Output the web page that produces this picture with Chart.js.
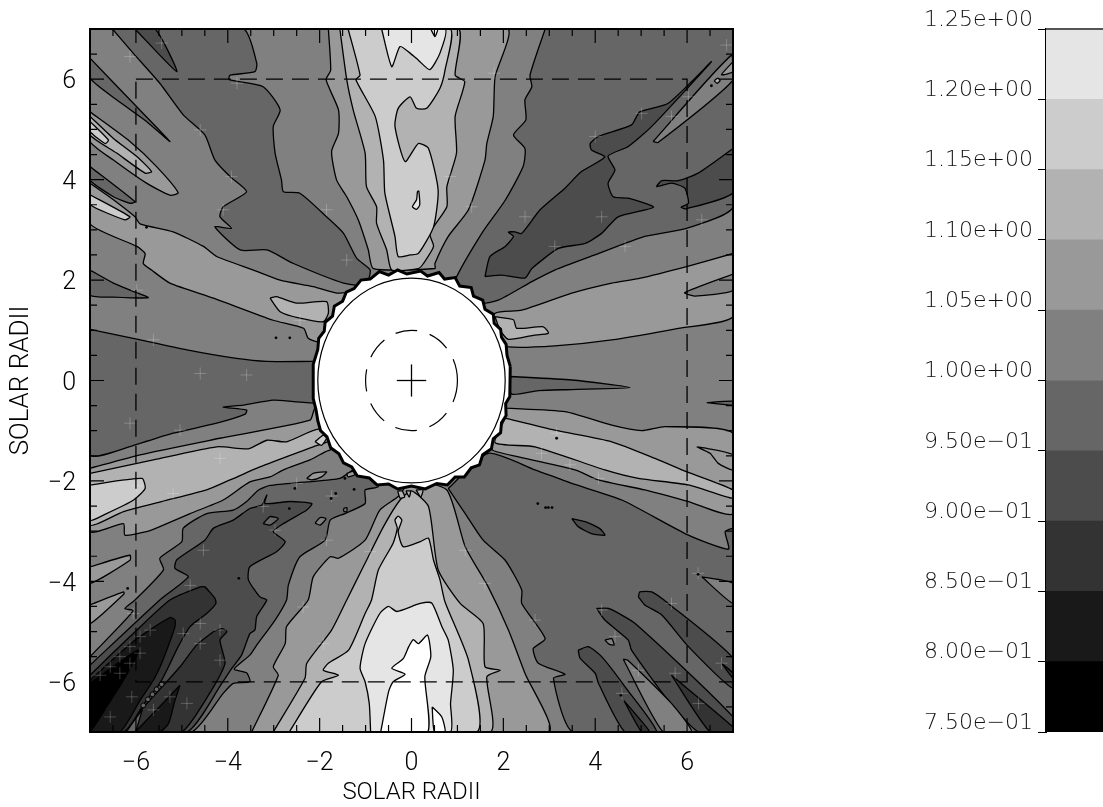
<!DOCTYPE html>
<html>
<head>
<meta charset="utf-8">
<script src="https://cdn.jsdelivr.net/npm/chart.js@4"></script>
<style>
  body { margin: 0; background: #fff; }
  canvas { position: absolute; top: 0; }
</style>
</head>
<body>
<canvas id="mapChart" width="800" height="807" style="left:0"></canvas>
<canvas id="barChart" width="223" height="807" style="left:880px"></canvas>
<script>
// colour bar
const bandLow = [0.75, 0.80, 0.85, 0.90, 0.95, 1.00, 1.05, 1.10, 1.15, 1.20];
const bandHigh = [0.80, 0.85, 0.90, 0.95, 1.00, 1.05, 1.10, 1.15, 1.20, 1.25];
const barTicks = ['7.50e\u221201', '8.00e\u221201', '8.50e\u221201', '9.00e\u221201', '9.50e\u221201',
  '1.00e+00', '1.05e+00', '1.10e+00', '1.15e+00', '1.20e+00', '1.25e+00'];
// one shade per band, the last is everything above 1.25
const shades = ['#000000', '#191919', '#333333', '#4c4c4c', '#666666', '#808080', '#999999', '#b2b2b2', '#cccccc', '#e5e5e5', '#ffffff'];

// contour outlines, [x, y] in solar radii
const fullField = [[-7,-7],[7,-7],[7,7],[-7,7]];

// below 1.00
const upperLeft95 = [[-6.51,7],[-6.06,6.52],[-5.48,5.92],[-4.97,5.29],[-4.5,4.89],[-4.28,4.39],[-3.95,4.06],[-3.59,3.76],[-4.1,3.46],[-4.17,3.26],[-3.92,3.03],[-4.28,3.06],[-3.73,2.6],[-3.15,2.6],[-2.57,2.33],[-1.48,1.94],[-1,1.9],[-.9,2.2],[-1.19,2.43],[-1.48,2.93],[-1.85,3.26],[-2.43,3.73],[-2.79,3.76],[-2.83,3.99],[-2.97,4.53],[-3.01,5.06],[-2.86,5.39],[-3.23,5.85],[-3.97,5.99],[-3.95,6.08],[-3.41,6.15],[-3.37,6.32],[-3.66,7]];
const leftFinger95a = [[-7,6.42],[-6.13,5.59],[-5.26,4.76],[-5.77,5.16],[-6.42,5.59],[-7,6.02]];
const leftFinger95b = [[-7,4.26],[-6.02,3.56],[-6.13,3.53],[-6.49,3.66],[-7,3.99]];
const leftFinger95c = [[-7,2.2],[-6.49,1.94],[-6.13,1.8],[-5.73,1.65],[-6.49,1.66],[-7,1.7]];
const midLeft95 = [[-7,1.02],[-6.06,.84],[-4.89,.61],[-3.81,.44],[-3.15,.38],[-2.17,.38],[-2,.38],[-2,-.46],[-2.14,-.45],[-2.57,-.42],[-3.01,-.39],[-3.66,-.49],[-4.1,-.53],[-3.59,-.59],[-3.62,-.67],[-4.24,-.85],[-5.19,-1.05],[-5.91,-1.25],[-7,-1.48]];
const upperRight95 = [[2.91,7],[7,7],[7,3.46],[5.99,3.03],[5.08,2.87],[3.99,2.5],[3.12,2.2],[2.62,1.97],[1.89,1.6],[1.53,1.54],[.95,1.7],[.95,2],[1.53,2.93],[2.04,3.59],[2.43,4.26],[2.47,4.62],[2.22,4.89],[2.49,5.19],[2.47,5.59],[2.62,5.85],[2.58,6.08]];
const midRight95 = [[2.14,.08],[3.49,.01],[4.76,-.14],[3.49,-.18],[2.76,-.2],[2.18,-.27]];
const farRight95 = [[6.43,-.44],[7,-.41],[7,-.49]];
const lowerRight95 = [[.8,-2.15],[1.67,-1.45],[2.69,-1.78],[3.49,-2.05],[4.58,-2.38],[6.03,-3.08],[6.9,-3.36],[6.83,-3.01],[7,-2.96],[7,-7],[3.52,-7],[3.09,-5.93],[3.34,-5.85],[2.76,-5.63],[2.65,-5.34],[2.91,-5.14],[2.4,-4.44],[2.4,-4.17],[2.04,-3.58],[1.56,-3.18],[1.17,-2.65]];
const lowerLeft95 = [[-7,-5.5],[-6.06,-4.59],[-6.24,-4.54],[-6.02,-4.37],[-5.4,-3.77],[-5.48,-3.54],[-5,-3.21],[-4.97,-2.94],[-4.46,-2.65],[-3.88,-2.58],[-3.59,-2.41],[-3.33,-2.18],[-3.08,-2.09],[-2.28,-2.02],[-1.56,-1.95],[-1.27,-1.78],[-1,-1.7],[-.72,-2.11],[-1.01,-2.18],[-1.01,-2.45],[-1.45,-2.65],[-1.77,-2.78],[-1.88,-3.18],[-2.43,-3.51],[-2.68,-4.07],[-2.72,-4.37],[-2.97,-4.77],[-3.37,-5.27],[-3.52,-5.47],[-3.86,-5.75],[-3.59,-5.82],[-3.52,-6],[-3.88,-6.03],[-4.1,-6.23],[-4.79,-7],[-7,-7]];

// below 0.95
const lowerLeft90 = [[-7,-5.67],[-5.48,-4.37],[-4.86,-3.91],[-5.15,-3.74],[-5.11,-3.57],[-4.5,-3.18],[-4.31,-2.94],[-3.88,-2.78],[-3.52,-2.55],[-3.26,-2.48],[-3.15,-2.28],[-3.19,-2.45],[-2.64,-2.41],[-2.17,-2.45],[-2.28,-2.58],[-2.79,-2.85],[-3.01,-3.01],[-2.75,-3.21],[-2.94,-3.41],[-3.52,-3.71],[-3.55,-3.97],[-3.3,-4.31],[-3.15,-4.37],[-3.37,-4.7],[-3.41,-4.97],[-3.52,-5.04],[-3.7,-5.47],[-3.91,-5.73],[-4.13,-6.03],[-4.89,-7],[-7,-7]];
const topLeft90 = [[-6.02,7],[-5.58,7],[-5.11,6.15]];
const upperRight90 = [[1.6,2.07],[1.71,2.47],[2.04,2.67],[2.22,2.87],[2.11,2.95],[2.25,2.96],[2.4,2.93],[2.8,3.4],[3.34,3.83],[3.7,4.16],[4.21,4.45],[3.92,4.59],[3.89,4.72],[4.07,4.86],[4.79,5.09],[4.97,5.35],[5.59,5.52],[6.53,6.35],[5.23,5.06],[4.72,4.66],[4.28,4.47],[4.43,4.19],[4.28,3.93],[4.39,3.66],[4.72,3.63],[5.27,3.45],[4.5,3.26],[4.14,2.93],[3.78,2.73],[3.2,2.63],[2.62,2.23],[2.47,2.04],[1.96,2.1]];
const rightLobe90 = [[7,4.62],[6.24,4.13],[5.81,3.98],[5.45,3.98],[5.34,3.86],[5.66,3.93],[5.95,3.83],[6.03,3.53],[5.87,3.45],[5.99,3.42],[7,3.74]];
const rightFinger90a = [[4.94,-4.31],[4.97,-4.21],[5.23,-4.21],[5.59,-4.44],[7,-5.53],[7,-6.13],[6.03,-5.3],[5.45,-4.67],[5.08,-4.47]];
const rightFinger90b = [[4.03,-4.54],[4.29,-4.54],[4.87,-4.84],[7,-6.7],[7,-7],[6.25,-7],[5.59,-6.37],[4.79,-5.37],[4.72,-5.17],[4.21,-4.77]];
const rightFinger90c = [[3.63,-5.37],[3.85,-5.3],[4.14,-5.5],[4.65,-6.1],[5.34,-7],[4.65,-7],[4.07,-6.03],[4,-5.83],[3.67,-5.53]];
const lowerBlob90 = [[3.49,-2.75],[3.78,-2.81],[4.1,-2.95],[4.21,-3.08],[3.92,-3.05],[3.63,-2.91]];

// below 0.90 and lower, bottom corners
const cornerLobe85 = [[-7,-5.87],[-6.13,-5.1],[-5.26,-4.37],[-4.6,-4.11],[-4.5,-4.11],[-4.28,-4.34],[-4.26,-4.44],[-4.46,-4.64],[-4.82,-4.9],[-5.08,-5.3],[-5.29,-5.7],[-5.48,-6.03],[-5.84,-6.46],[-6.09,-6.83],[-6.27,-7],[-7,-7]];
const cornerFinger85 = [[-4.31,-5],[-4.13,-4.94],[-4.02,-5],[-4.17,-5.17],[-4.06,-5.63],[-4.31,-6.1],[-5,-7],[-6.02,-7],[-5.91,-6.6],[-5.4,-6.07],[-5.04,-5.7],[-4.68,-5.27]];
const cornerFinger80 = [[-5.04,-6.07],[-5.15,-6.37],[-5.29,-6.83],[-5.48,-7],[-6.02,-7],[-5.91,-6.9]];
const cornerSliver = [[-5.86,-6.55],[-6.02,-7],[-6.2,-7]];
const cornerLobe80 = [[-7,-5.97],[-6.02,-5.17],[-5.26,-4.72],[-5.15,-4.77],[-5.15,-4.9],[-5.26,-5.2],[-5.44,-5.63],[-5.62,-5.97],[-5.91,-6.37],[-6.35,-7],[-7,-7]];
const cornerLobe75 = [[-7,-6.03],[-5.95,-5.37],[-6.27,-5.97],[-6.64,-6.5],[-7,-7]];
const rightInner85a = [[6.75,-5.63],[7,-5.83],[7,-5.93]];
const rightInner85b = [[5.66,-5.87],[7,-6.9],[7,-7],[6.5,-7]];
const rightInner85c = [[4.63,-6.38],[5.19,-7],[5.01,-7]];
const rightWedge100 = [[4.61,-5.55],[4.71,-5.57],[5.66,-6.43],[6.1,-7],[5.48,-7]];

// small islands in the darker fields
const islandA = [[-3.23,-2.85],[-3.08,-2.71],[-2.9,-2.75],[-3.08,-2.88]];
const islandB = [[-2.1,-2.84],[-1.99,-2.73],[-1.86,-2.75],[-1.99,-2.88]];
const islandC = [[-1.48,-2.55],[-1.41,-2.53],[-1.41,-2.61],[-1.47,-2.61]];
const islandD = [[-2.28,-1.95],[-2.14,-1.85],[-1.85,-1.82],[-1.96,-1.92],[-2.17,-1.98]];
const islandE = [[-1.41,-1.85],[-1.27,-1.81],[-1.24,-1.88],[-1.38,-1.92]];
const islandF = [[4.21,-5.17],[4.36,-5.14],[4.41,-5.27],[4.3,-5.25]];
const islandG = [[6.32,-3.91],[7,-4.04],[7,-4.44]];

// top centre, brightening upward
const top105 = [[-1.81,7],[-1.76,6.18],[-1.86,5.99],[-1.59,5.39],[-1.59,4.92],[-1.74,4.56],[-1.63,3.99],[-1.41,3.66],[-1.16,3.2],[-.94,2.6],[-.83,2.23],[.51,2.23],[.51,2.33],[.8,2.87],[1.24,3.4],[1.6,4.39],[1.64,4.72],[1.78,5.26],[1.82,6.05],[2.09,7]];
const top110 = [[-1.56,7],[-1.41,5.99],[-1.27,5.39],[-1.01,4.53],[-.98,3.86],[-.76,3.46],[-.76,3.13],[-.54,2.6],[-.43,2.2],[.15,2.23],[.26,2.33],[.48,2.67],[.4,2.93],[.77,3.46],[.77,3.86],[.98,4.53],[.95,5.26],[1.16,5.95],[.95,6.08],[1.02,7]];
const top115 = [[-1.38,7],[-1.12,6.08],[-1.21,5.99],[-.79,5.26],[-.61,4.39],[-.58,3.73],[-.36,2.87],[-.29,2.47],[-.03,2.5],[.15,2.53],[.48,3.06],[.58,3.79],[.37,4.62],[.15,4.72],[-.14,4.36],[-.36,5.06],[-.29,5.42],[-.03,5.65],[.11,5.42],[.33,5.42],[.62,5.82],[.73,6.18],[.84,7]];
const top120 = [[-.65,7],[-.43,6.25],[-.25,6.65],[-.03,6.52],[.15,6.38],[.4,6.19],[.62,6.52],[.73,7]];
const top125 = [[.42,7],[.51,6.85],[.57,7]];
const topIsland = [[.16,3.78],[.18,3.5],[.11,3.41],[.02,3.46],[.11,3.6],[.13,3.76]];

// bottom centre, brightening downward
const bottom105 = [[-3.48,-7],[-2.9,-5.87],[-3.01,-5.7],[-2.75,-5.24],[-2.72,-4.9],[-2.25,-4.37],[-2.14,-3.91],[-1.77,-3.51],[-1.59,-3.54],[-1.01,-3.18],[-.69,-2.58],[-.29,-2.31],[0,-2],[.77,-2.18],[1.17,-3.31],[1.67,-4.11],[2.11,-4.97],[2.47,-5.83],[2.98,-7]];
const bottom110 = [[-3.01,-7],[-2.32,-5.93],[-2.28,-5.63],[-1.74,-4.97],[-1.41,-4.37],[-1.05,-3.71],[-.61,-2.91],[-.25,-2.38],[0,-2.2],[.37,-2.51],[.58,-3.77],[1.06,-4.44],[1.56,-4.84],[1.6,-5.7],[1.93,-5.77],[1.64,-5.9],[1.71,-7]];
const bottom115 = [[-2.66,-7],[-1.96,-6],[-1.59,-5.87],[-1.92,-5.77],[-1.81,-5.63],[-1.37,-5.37],[-1.01,-4.64],[-.87,-4.37],[-.72,-3.77],[-.4,-3.24],[-.31,-2.94],[-.36,-2.78],[-.29,-2.7],[-.21,-2.78],[-.29,-3.01],[-.18,-3.31],[.19,-3.21],[.37,-3.14],[.48,-3.58],[.62,-3.97],[.73,-4.41],[1.24,-5.57],[1.42,-7]];
const bottom120 = [[-.89,-7],[-.92,-6.43],[-1.01,-6],[-1.12,-5.73],[-1.01,-5.24],[-.69,-4.64],[-.5,-4.5],[-.32,-4.6],[.19,-4.44],[.44,-4.43],[.66,-4.9],[.8,-5.17],[.91,-5.77],[.85,-6.43],[.84,-7]];
const bottom125 = [[-.67,-7],[-.5,-6.2],[-.4,-6],[-.14,-5.85],[-.43,-5.73],[-.18,-5.54],[-.06,-5.3],[.04,-5.16],[.15,-5.24],[.35,-5.07],[.42,-5.5],[.29,-5.9],[.35,-7]];
const bottomIsland = [[.45,-6.5],[.66,-6.7],[.73,-7],[.5,-7]];
const bottomRagA = [[-.3,-2.2],[-.2,-2.2],[-.15,-2.32],[-.25,-2.34]];
const bottomRagB = [[-.12,-2.2],[-.02,-2.2],[-.05,-2.32]];
const bottomRagC = [[.1,-2.18],[.25,-2.18],[.2,-2.32]];

// bands running out from the disc, left side
const upperLeft105 = [[-7,3.93],[-6.49,3.6],[-6.02,3.26],[-5.91,3.12],[-5.19,2.96],[-4.53,2.67],[-4.24,2.47],[-3.44,2.2],[-2.86,2],[-2.14,1.87],[-1.63,1.74],[-1.34,1.74],[-1.5,1.3],[-2,.85],[-2.03,.77],[-2.25,.84],[-2.35,1.04],[-3.01,1.2],[-4.31,1.64],[-5.26,1.94],[-5.66,2.2],[-5.84,2.33],[-5.8,2.53],[-5.98,2.67],[-7,3.12]];
const upperLeft110 = [[-3.08,1.64],[-2.94,1.67],[-2.5,1.54],[-1.85,1.57],[-1.81,1.34],[-1.92,1.17],[-2.43,1.24],[-2.86,1.37]];
const leftTip115 = [[-7,3.7],[-6.13,3.26],[-6.24,3.2],[-7,3.5]];
const leftStreak105 = [[-7,5.35],[-6.13,4.76],[-5.55,4.26],[-5.08,3.74],[-5.26,3.69],[-5.77,3.93],[-6.49,4.39],[-7,4.76]];
const leftStreak110 = [[-7,5.26],[-6.49,4.82],[-5.98,4.46],[-5.66,4.16],[-5.8,4.13],[-6.42,4.53],[-7,4.89]];
const leftStreak115 = [[-7,5.16],[-6.6,4.79],[-6.67,4.72],[-7,4.96]];
const lowerLeft105 = [[-7,-1.75],[-5.91,-1.48],[-4.17,-1.15],[-2.21,-.79],[-2.1,-.55],[-1.8,-.6],[-1.6,-1.3],[-1.88,-1.42],[-2.21,-1.58],[-2.79,-1.78],[-3.08,-1.92],[-3.52,-2.02],[-4.1,-2.38],[-4.82,-2.65],[-5.48,-2.91],[-5.77,-3.01],[-6.24,-3.08],[-6.27,-2.85],[-7,-3.01]];
const lowerLeft110 = [[-7,-1.85],[-5.62,-1.58],[-4.24,-1.32],[-3.55,-1.36],[-3.15,-1.19],[-2.72,-1.22],[-2.03,-.97],[-1.8,-1.2],[-2.14,-1.32],[-3.3,-1.72],[-3.95,-1.98],[-4.46,-2.18],[-5.44,-2.41],[-6.27,-2.61],[-7,-2.88]];
const lowerLeft115 = [[-7,-2.08],[-5.87,-1.95],[-5.8,-2.15],[-6.05,-2.38],[-6.64,-2.65],[-7,-2.78]];
const nearDisc115 = [[-2.1,-1.22],[-1.92,-1.09],[-1.85,-1.15],[-1.96,-1.29]];
const cornerFinger105a = [[-7,-3.71],[-6.13,-3.48],[-6.13,-3.58],[-7,-4.04]];
const cornerFinger105b = [[-7,-4.47],[-6.27,-4.21],[-6.26,-4.25],[-7,-4.84]];

// bands running out from the disc, right side
const cornerFinger100 = [[5.26,4.76],[6.97,6.48],[7,5.98],[5.37,4.74]];
const cornerFinger105 = [[7,6.35],[6.75,6.09],[7,6.15]];
const cornerRing = [[6.59,5.97],[6.67,6.02],[6.72,5.97],[6.65,5.92]];
const upperRight105 = [[7,2.53],[5.99,2.27],[4.94,2.03],[4.36,1.94],[3.49,1.74],[2.4,1.4],[1.82,1.34],[1.6,.85],[2.11,.67],[3.12,.69],[4.36,.81],[5.81,1.04],[7,1.27]];
const upperRight100 = [[7,2.12],[5.95,1.75],[6.17,1.68],[7,1.79]];
const upperRight110 = [[1.82,1.27],[2.22,1.21],[2.29,1.04],[2.87,1.07],[2.98,.94],[2.65,.9],[2.11,.82],[1.93,1]];
const lowerRight105 = [[2.07,-.55],[3.34,-.62],[4.36,-.89],[5.01,-1],[5.52,-.92],[7,-1.05],[7,-2.65],[6.03,-2.41],[5.08,-2.18],[4.07,-1.98],[3.56,-1.78],[2.33,-1.52],[1.71,-1.35],[1.7,-.5]];
const lowerRight110 = [[2.04,-.75],[3.12,-.99],[4.36,-1.22],[5.3,-1.55],[6,-1.82],[7,-2.18],[7,-2.35],[6.03,-2.08],[4.94,-1.95],[4.21,-1.78],[2.69,-1.32],[1.82,-1.24]];
const rightIsland105 = [[6.21,-1.32],[6.43,-1.35],[7,-1.48],[7,-1.78],[6.68,-1.65],[6.5,-1.45]];

// the blocked-out centre with its ragged edge
const occulter = [[2.15,.28],[2.08,.5],[2.06,.72],[1.96,.86],[1.94,1.02],[1.8,1.14],[1.78,1.32],[1.6,1.42],[1.55,1.6],[1.35,1.68],[1.3,1.85],[1.05,1.88],[.95,2.05],[.72,2.02],[.6,2.15],[.35,2.08],[.2,2.18],[-.1,2.12],[-.3,2.2],[-.5,2.1],[-.7,2.17],[-.9,2.02],[-1.1,2],[-1.25,1.83],[-1.42,1.76],[-1.5,1.58],[-1.68,1.48],[-1.72,1.28],[-1.88,1.16],[-1.9,.98],[-2.02,.84],[-2.04,.62],[-2.14,.32],[-2.14,-.36],[-2.08,-.58],[-2.04,-.8],[-1.98,-1],[-1.84,-1.12],[-1.76,-1.34],[-1.58,-1.46],[-1.48,-1.64],[-1.3,-1.72],[-1.18,-1.9],[-.92,-1.94],[-.75,-2.08],[-.5,-2.06],[-.3,-2.16],[0,-2.1],[.3,-2.16],[.55,-2.05],[.78,-2.08],[.95,-1.92],[1.15,-1.92],[1.3,-1.74],[1.48,-1.68],[1.55,-1.48],[1.74,-1.36],[1.78,-1.16],[1.94,-1.04],[1.96,-.84],[2.06,-.7],[2.05,-.46],[2.14,-.32]];

// painted in this order, each with the band it shows
const contourTable = [
  [fullField, 5],
  [upperLeft95, 4], [leftFinger95a, 4], [leftFinger95b, 4], [leftFinger95c, 4], [midLeft95, 4],
  [upperRight95, 4], [midRight95, 4], [farRight95, 4], [lowerRight95, 4], [lowerLeft95, 4],
  [lowerLeft90, 3], [topLeft90, 3], [upperRight90, 3], [rightLobe90, 3],
  [rightFinger90a, 3], [rightFinger90b, 3], [rightFinger90c, 3], [lowerBlob90, 3],
  [cornerLobe85, 2], [cornerFinger85, 2], [cornerFinger80, 1], [cornerSliver, 4], [cornerLobe80, 1], [cornerLobe75, 0],
  [rightInner85a, 2], [rightInner85b, 2], [rightInner85c, 2], [rightWedge100, 5],
  [islandA, 4], [islandB, 5], [islandC, 5], [islandD, 6], [islandE, 6], [islandF, 5], [islandG, 5],
  [top105, 6], [top110, 7], [top115, 8], [top120, 9], [top125, 10], [topIsland, 9],
  [bottom105, 6], [bottom110, 7], [bottom115, 8], [bottom120, 9], [bottom125, 10], [bottomIsland, 10],
  [bottomRagA, 7], [bottomRagB, 7], [bottomRagC, 7],
  [upperLeft105, 6], [upperLeft110, 7], [leftTip115, 8],
  [leftStreak105, 6], [leftStreak110, 7], [leftStreak115, 8],
  [lowerLeft105, 6], [lowerLeft110, 7], [lowerLeft115, 8], [nearDisc115, 8],
  [cornerFinger105a, 6], [cornerFinger105b, 6],
  [cornerFinger100, 5], [cornerFinger105, 6], [cornerRing, 7],
  [upperRight105, 6], [upperRight100, 5], [upperRight110, 7],
  [lowerRight105, 6], [lowerRight110, 7], [rightIsland105, 6]
];

// tiny closed contours, too small to fill
const specks = [[-2.54,-2.15],[-1.45,-1.95],[-1.25,-2.17],[-2.66,-2.55],[-1.65,-2.25],[-1.75,-2.35],[-2.95,.85],[-2.65,.85],[2.75,-2.45],[6.24,-3.86],[-3.76,-3.94],[3.16,-1.15],[6.53,5.87],[4.56,-6.27],[-6.18,-4.14],[-5.77,3.05],[2.98,-2.53],[3.06,-2.53],[2.92,-2.53]];
const saddleRings = [[-5.44,-6.05],[-5.55,-6.15],[-5.64,-6.25],[-5.74,-6.35],[-5.84,-6.47]];
// faint white crosses scattered over the field
const faintCrosses = [[-6.13,6.45],[-5.44,6.72],[-3.8,5.92],[-4.6,4.99],[-3.92,4.06],[-4.1,3.4],[-1.41,2.4],[-1.85,3.4],
  [6.32,3.2],[5.01,5.32],[5.66,5.26],[6.03,5.65],[4,4.86],[2.47,3.26],[1.31,3.46],[.84,4.06],[3.12,2.67],[4.65,2.67],[4.14,3.26],[6.86,6.68],[1.8,6.12],
  [3.16,-1.05],[2.83,-1.45],[3.45,-1.68],[4.14,-4.57],[4.43,-5.1],[4.94,-5.77],[5.74,-5.83],[6.25,-6.43],[4.58,-6.23],[6.24,-3.84],[1.6,-4.04],[1.17,-3.38],[2.69,-4.77],[5.66,-4.44],[6.75,-5.63],[4.07,-1.95],
  [-6.56,-5.7],[-6.35,-5.5],[-6.13,-5.3],[-5.91,-5.1],[-5.69,-4.97],[-6.78,-5.87],[-6.35,-5.83],[-6.13,-5.63],[-5.91,-5.43],[-6.06,-4.64],[-4.6,-4.84],[-4.6,-5.24],[-4.17,-4.97],[-4.17,-5.57],[-4.97,-5.04],[-5.26,-6.3],[-5.62,-6.56],[-6.09,-6.3],[-6.56,-6.7],[-4.89,-6.43],
  [-5.98,-2.1],[-5.19,-2.25],[-4.53,-3.38],[-4.82,-4.08],[-2.5,-2.05],[-1.74,-2.3],[-3.23,-2.51],[-2.97,-2.98],[-.9,-3.41],[-1.85,-3.18],
  [-2.43,1.2],[-4.6,.14],[-3.59,.11],[-6.13,-.85],[-5.98,1.8],[-5.62,.81],[-5.04,-.99],[-4.17,-1.55],[-2.36,-4.51],[-1.92,-5.24]];

// overlays
const solarBox = [[-6,6],[6,6],[6,-6],[-6,-6],[-6,6]];
const crossH = [[-.32,0],[.32,0]];
const crossV = [[0,-.32],[0,.32]];
const limbRadius = 2.04;
const oneRadius = 1;

const toPoints = pts => pts.map(p => ({x: p[0], y: p[1]}));
const closed = pts => toPoints(pts.concat([pts[0]]));

const datasets = contourTable.map(([pts, band], i) => ({
  data: closed(pts),
  showLine: true,
  fill: 'shape',
  tension: pts === fullField ? 0 : 0.2,
  backgroundColor: shades[band],
  borderColor: '#000',
  borderWidth: 1.3,
  pointRadius: 0,
  order: 1000 - i
}));
datasets.push({data: toPoints(faintCrosses), showLine: false, pointStyle: 'cross', pointRadius: 6, borderColor: 'rgba(255,255,255,0.22)', borderWidth: 1, order: 7});
datasets.push({data: toPoints(specks), showLine: false, pointRadius: 1.4, backgroundColor: '#000', borderWidth: 0, order: 6});
datasets.push({data: toPoints(saddleRings), showLine: false, pointRadius: 2.4, backgroundColor: '#666', borderColor: '#000', borderWidth: 1, order: 5});
datasets.push({data: closed(occulter), showLine: true, fill: 'shape', backgroundColor: '#fff', borderColor: '#000', borderWidth: 3, pointRadius: 0, order: 4});
datasets.push({data: toPoints(solarBox), showLine: true, fill: false, borderColor: '#000', borderWidth: 1.3, borderDash: [17, 9], pointRadius: 0, order: 3});
datasets.push({data: toPoints(crossH), showLine: true, fill: false, borderColor: '#000', borderWidth: 1.3, pointRadius: 0, order: 2});
datasets.push({data: toPoints(crossV), showLine: true, fill: false, borderColor: '#000', borderWidth: 1.3, pointRadius: 0, order: 1});

// frame, inward ticks on all four sides, limb circles
const frameAndLimb = {
  id: 'frameAndLimb',
  afterDatasetsDraw(chart) {
    const {ctx, chartArea: a, scales: {x, y}} = chart;
    const ellipse = (r, dash) => {
      ctx.setLineDash(dash);
      ctx.beginPath();
      ctx.ellipse(x.getPixelForValue(0), y.getPixelForValue(0),
        x.getPixelForValue(r) - x.getPixelForValue(0),
        y.getPixelForValue(0) - y.getPixelForValue(r), 0, 0, Math.PI * 2);
      ctx.stroke();
    };
    ctx.save();
    ctx.strokeStyle = '#000';
    ctx.lineWidth = 1.2;
    ellipse(limbRadius, []);
    ellipse(oneRadius, [22, 13]);
    ctx.setLineDash([]);
    const len = v => (v % 2 === 0 ? 14 : 7);
    ctx.beginPath();
    x.ticks.forEach(t => {
      const px = x.getPixelForValue(t.value);
      ctx.moveTo(px, a.bottom); ctx.lineTo(px, a.bottom - len(t.value));
      ctx.moveTo(px, a.top); ctx.lineTo(px, a.top + len(t.value));
    });
    y.ticks.forEach(t => {
      const py = y.getPixelForValue(t.value);
      ctx.moveTo(a.left, py); ctx.lineTo(a.left + len(t.value), py);
      ctx.moveTo(a.right, py); ctx.lineTo(a.right - len(t.value), py);
    });
    ctx.stroke();
    ctx.lineWidth = 2;
    ctx.strokeRect(a.left, a.top, a.right - a.left, a.bottom - a.top);
    ctx.restore();
  }
};

// dark line along the top of the colour bar
const barTop = {
  id: 'barTop',
  afterDatasetsDraw(chart) {
    const {ctx, chartArea: a} = chart;
    ctx.save();
    ctx.strokeStyle = '#555';
    ctx.lineWidth = 2;
    ctx.beginPath();
    ctx.moveTo(a.left, a.top);
    ctx.lineTo(a.right, a.top);
    ctx.stroke();
    ctx.restore();
  }
};

const tickText = v => (v % 2 === 0 ? String(v).replace('-', '\u2212') : '');
const tickFont = {family: 'Roboto', size: 25, weight: 300};

new Chart(document.getElementById('mapChart'), {
  type: 'scatter',
  data: {datasets},
  plugins: [frameAndLimb],
  options: {
    responsive: false,
    animation: false,
    events: [],
    layout: {padding: {top: 29, right: 67}},
    plugins: {legend: {display: false}, tooltip: {enabled: false}},
    scales: {
      x: {
        min: -7, max: 7,
        grid: {display: false},
        border: {display: false},
        ticks: {stepSize: 0.5, autoSkip: false, maxRotation: 0, padding: 9, color: '#000', font: tickFont, callback: tickText},
        title: {display: true, text: 'SOLAR RADII', color: '#000', font: {family: 'Roboto', size: 24, weight: 300}, padding: {top: 0, bottom: 0}},
        afterFit: s => { s.height = 75; }
      },
      y: {
        min: -7, max: 7,
        grid: {display: false},
        border: {display: false},
        ticks: {stepSize: 0.5, autoSkip: false, padding: 6, labelOffset: 3, color: '#000', font: tickFont, callback: tickText},
        title: {display: true, text: 'SOLAR RADII', color: '#000', font: {family: 'Roboto', size: 26, weight: 300}, padding: {top: 6, bottom: 0}},
        afterFit: s => { s.width = 90; }
      }
    }
  }
});

new Chart(document.getElementById('barChart'), {
  type: 'bar',
  data: {
    labels: [''],
    datasets: bandLow.map((low, i) => ({
      data: [[low, bandHigh[i]]],
      backgroundColor: shades[i],
      borderWidth: 0,
      grouped: false,
      barPercentage: 1,
      categoryPercentage: 1
    }))
  },
  plugins: [barTop],
  options: {
    responsive: false,
    animation: false,
    events: [],
    layout: {padding: {top: 29, bottom: 75}},
    plugins: {legend: {display: false}, tooltip: {enabled: false}},
    scales: {
      x: {display: false},
      y: {
        min: 0.75, max: 1.25,
        grid: {drawOnChartArea: false, tickLength: 8, color: '#000'},
        border: {display: true, color: '#000', width: 2},
        ticks: {
          stepSize: 0.05,
          padding: 5,
          labelOffset: -9,
          color: '#111',
          font: {family: 'DejaVu Sans', size: 22, weight: 200},
          callback: (v, i) => barTicks[i]
        },
        afterFit: s => { s.width = 166; }
      }
    }
  }
});
</script>
</body>
</html>
